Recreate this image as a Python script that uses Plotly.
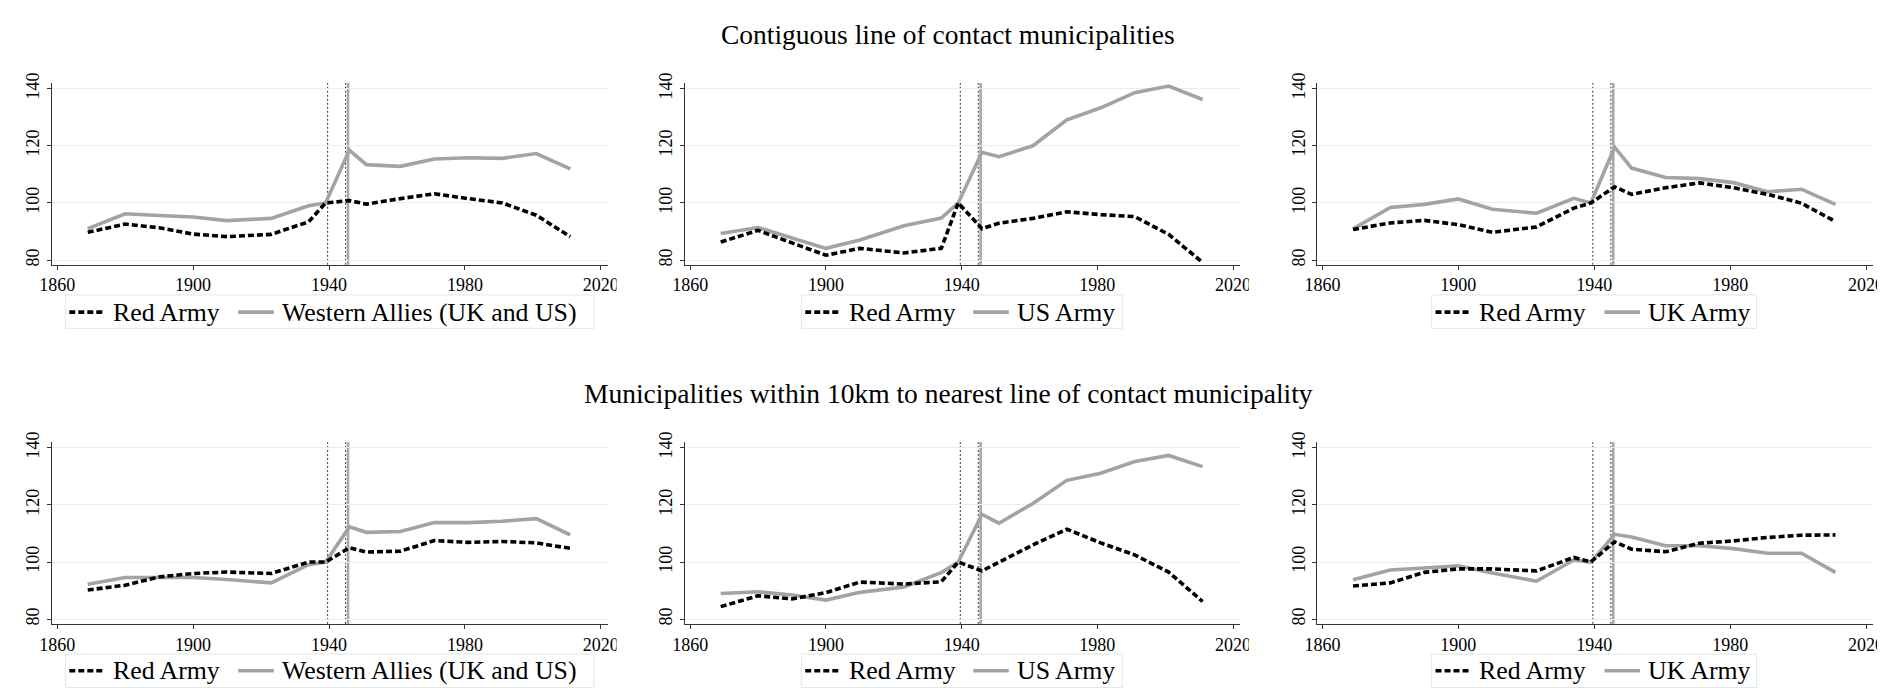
import plotly.graph_objects as go

# ---------------- data ----------------
years = [1869, 1880, 1890, 1900, 1910, 1923, 1934, 1939, 1946, 1951, 1961, 1971, 1981, 1991, 2001, 2011]

row_titles = ["Contiguous line of contact municipalities",
              "Municipalities within 10km to nearest line of contact municipality"]

red_label = "Red Army"
west_labels = ["Western Allies (UK and US)", "US Army", "UK Army"]

# Row 1: contiguous line of contact municipalities
red_c1 = [89.7, 92.6, 91.3, 89.1, 88.2, 89.0, 93.4, 100, 100.8, 99.6, 101.5, 103.2, 101.5, 100.0, 95.7, 88.2]
west_c1 = [91.0, 96.2, 95.6, 95.1, 93.8, 94.6, 99.0, 100, 118.5, 113.4, 112.8, 115.4, 115.8, 115.6, 117.3, 111.9]
red_c2 = [86.3, 90.4, 86.0, 81.7, 84.1, 82.5, 84.1, 100, 91.0, 92.9, 94.6, 96.9, 95.9, 95.2, 89.0, 79.2]
west_c2 = [89.3, 91.4, 87.7, 84.1, 87.0, 92.0, 94.7, 100, 117.7, 116.2, 120.0, 129.1, 133.3, 138.6, 140.9, 136.2]
red_c3 = [90.7, 93.0, 93.9, 92.4, 89.7, 91.6, 98.2, 100, 105.6, 103.0, 105.3, 107.0, 105.3, 103.0, 99.9, 93.5]
west_c3 = [90.9, 98.4, 99.5, 101.4, 97.8, 96.4, 101.6, 100, 119.5, 112.2, 108.9, 108.5, 107.1, 103.9, 104.8, 99.5]

# Row 2: municipalities within 10km
red_n1 = [90.2, 91.9, 94.8, 96.0, 96.5, 96.0, 100.0, 100, 105.0, 103.5, 103.8, 107.5, 106.9, 107.2, 106.7, 104.8]
west_n1 = [92.2, 94.6, 94.6, 94.6, 93.9, 92.7, 99.1, 100, 112.3, 110.4, 110.7, 113.8, 113.8, 114.3, 115.2, 109.5]
red_n2 = [84.4, 88.2, 87.1, 89.3, 93.0, 92.3, 93.1, 100, 96.9, 100.0, 106.0, 111.5, 106.7, 102.5, 96.5, 86.2]
west_n2 = [89.0, 89.6, 88.5, 86.7, 89.4, 91.3, 96.3, 100, 116.7, 113.6, 120.5, 128.6, 131.1, 135.2, 137.3, 133.4]
red_n3 = [91.6, 92.7, 96.4, 97.6, 97.6, 96.9, 101.6, 100, 107.1, 104.5, 103.6, 106.6, 107.4, 108.6, 109.4, 109.5]
west_n3 = [93.8, 97.2, 97.9, 98.7, 96.2, 93.3, 100.7, 100, 109.7, 108.8, 105.7, 105.7, 104.7, 103.1, 103.1, 96.4]

x_ticks = [1860, 1900, 1940, 1980, 2020]
y_ticks = [80, 100, 120, 140]
dotted_years = [1939.6, 1944.9]
solid_year = 1945.6

# ---------------- layout / style constants (pixels) ----------------
W, H = 1897, 688
FONT = "Liberation Serif, Times New Roman, serif"
GRAY = "#a3a3a3"
DASH = "6px,3px"
LW = 3.6
col_px = [(40.0, 603.3), (680.8, 1243.3), (1320.8, 1884.0)]
row_px = [(73.3, 258.3), (438.8, 623.8)]
title_y = [24.0, 389.0]
x_range = [1858.34, 2022.1]
y_range = [78.35, 141.96]
# legend boxes: (left, right, sym1 x0, text1 x, sym2 x0, text2 x)
legend_px = [(54, 589, 58, 100, 229, 271),
             (799, 1124, 803, 845, 973, 1015),
             (1437, 1766, 1441, 1483, 1612, 1654)]
legend_box_top = [289.0, 654.5]
legend_box_h = 34.0
legend_mid = [306.5, 671.5]
sym_len = 36

panels = [
    (0, 0, red_c1, west_c1), (0, 1, red_c2, west_c2), (0, 2, red_c3, west_c3),
    (1, 0, red_n1, west_n1), (1, 1, red_n2, west_n2), (1, 2, red_n3, west_n3),
]


def px(x):
    return x / W


def py(y):
    return 1 - y / H


fig = go.Figure()
layout = dict(
    width=W, height=H, margin=dict(l=0, r=0, t=0, b=0),
    paper_bgcolor="white", plot_bgcolor="white",
    font=dict(family=FONT, color="black"),
    showlegend=False, shapes=[], annotations=[],
)

for i, (r, c, red, west) in enumerate(panels):
    k = i + 1
    xs = "x" if k == 1 else f"x{k}"
    ys = "y" if k == 1 else f"y{k}"
    x0, x1 = col_px[c]
    y0, y1 = row_px[r]

    fig.add_trace(go.Scatter(
        x=years, y=west, mode="lines", name=west_labels[c],
        line=dict(color=GRAY, width=LW), xaxis=xs, yaxis=ys, hoverinfo="skip"))
    fig.add_trace(go.Scatter(
        x=years, y=red, mode="lines", name=red_label,
        line=dict(color="black", width=LW, dash=DASH), xaxis=xs, yaxis=ys, hoverinfo="skip"))

    xa = "xaxis" if k == 1 else f"xaxis{k}"
    ya = "yaxis" if k == 1 else f"yaxis{k}"
    layout[xa] = dict(
        domain=[px(x0), px(x1)], anchor=ys, range=x_range,
        tickmode="array", tickvals=x_ticks, ticks="outside", ticklen=4,
        tickcolor="#333", tickwidth=1, showline=True, linecolor="#333", linewidth=1,
        showgrid=False, zeroline=False, tickfont=dict(size=18, family=FONT, color="black"),
        fixedrange=True)
    layout[ya] = dict(
        domain=[py(y1), py(y0)], anchor=xs, range=y_range,
        tickmode="array", tickvals=y_ticks, ticks="outside", ticklen=4,
        tickcolor="#333", tickwidth=1, showline=True, linecolor="#333", linewidth=1,
        showgrid=True, gridcolor="#e6eff0", gridwidth=1, zeroline=False,
        tickangle=-90, tickfont=dict(size=18, family=FONT, color="black"),
        fixedrange=True)

    for yr in dotted_years:
        layout["shapes"].append(dict(
            type="line", xref=xs, yref=f"{ys} domain", x0=yr, x1=yr, y0=0, y1=1,
            line=dict(color="#333", width=1, dash="2px,2px"), layer="below"))
    layout["shapes"].append(dict(
        type="line", xref=xs, yref=f"{ys} domain", x0=solid_year, x1=solid_year, y0=0, y1=1,
        line=dict(color="#a8a8a8", width=2.6), layer="below"))

    # legend box (Stata style, one per panel)
    L, R, s1, t1, s2, t2 = legend_px[c]
    top = legend_box_top[r]
    mid = legend_mid[r]
    layout["shapes"].append(dict(
        type="rect", xref="paper", yref="paper", x0=px(L), x1=px(R),
        y0=py(top + legend_box_h), y1=py(top),
        fillcolor="white", line=dict(color="#dfe8e9", width=1), layer="above"))
    layout["shapes"].append(dict(
        type="line", xref="paper", yref="paper", x0=px(s1), x1=px(s1 + sym_len),
        y0=py(mid), y1=py(mid), line=dict(color="black", width=LW, dash=DASH), layer="above"))
    layout["shapes"].append(dict(
        type="line", xref="paper", yref="paper", x0=px(s2), x1=px(s2 + sym_len),
        y0=py(mid), y1=py(mid), line=dict(color=GRAY, width=LW), layer="above"))
    layout["annotations"].append(dict(
        text=red_label, x=px(t1), y=py(mid), xref="paper", yref="paper",
        xanchor="left", yanchor="middle", showarrow=False,
        font=dict(size=25.8, family=FONT, color="black")))
    layout["annotations"].append(dict(
        text=west_labels[c], x=px(t2), y=py(mid), xref="paper", yref="paper",
        xanchor="left", yanchor="middle", showarrow=False,
        font=dict(size=25.8, family=FONT, color="black")))

# clip the last tick label of every panel like the original graph regions
clip_x = [612, 1252, 1888]
for r in range(2):
    for cx in clip_x:
        yb = row_px[r][1]
        layout["shapes"].append(dict(
            type="rect", xref="paper", yref="paper",
            x0=px(cx), x1=px(cx + 12), y0=py(yb + 28), y1=py(yb + 4),
            fillcolor="white", line=dict(width=0), layer="above"))

for r in range(2):
    layout["annotations"].append(dict(
        text=row_titles[r], x=0.4995, y=py(title_y[r]), xref="paper", yref="paper",
        xanchor="center", yanchor="middle", showarrow=False,
        font=dict(size=27.5, family=FONT, color="black")))

fig.update_layout(**layout)
fig.write_html("out.html")
